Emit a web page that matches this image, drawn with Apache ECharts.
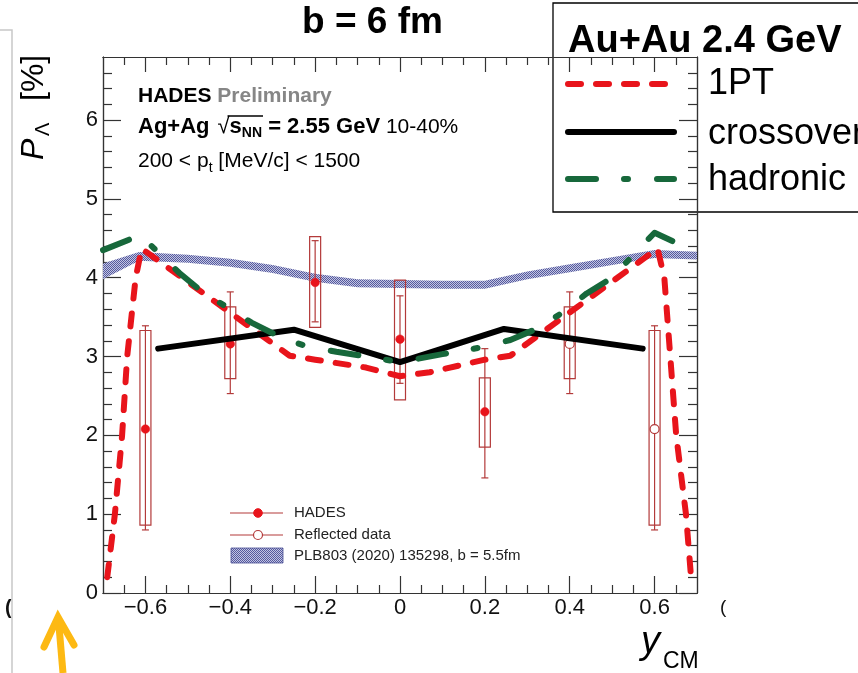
<!DOCTYPE html>
<html><head><meta charset="utf-8">
<script src="https://cdn.jsdelivr.net/npm/echarts@6/dist/echarts.min.js"></script>
<style>html,body{margin:0;padding:0;background:#fff}#c{width:858px;height:673px}</style>
</head><body><div id="c"></div>
<script>
const FONT = '"Liberation Sans", Arial, Helvetica, sans-serif';

// ---- axis ticks ----
const xTickValues = [-0.6, -0.4, -0.2, 0, 0.2, 0.4, 0.6];
const xTickLabels = ['\u22120.6', '\u22120.4', '\u22120.2', '0', '0.2', '0.4', '0.6'];
const xMinorValues = [-0.65, -0.55, -0.5, -0.45, -0.35, -0.3, -0.25, -0.15, -0.1, -0.05, 0.05, 0.1, 0.15, 0.25, 0.3, 0.35, 0.45, 0.5, 0.55, 0.65];
const yTickValues = [0, 1, 2, 3, 4, 5, 6];
const yTickLabels = ['0', '1', '2', '3', '4', '5', '6'];
const yMinorValues = [0.2, 0.4, 0.6, 0.8, 1.2, 1.4, 1.6, 1.8, 2.2, 2.4, 2.6, 2.8, 3.2, 3.4, 3.6, 3.8, 4.2, 4.4, 4.6, 4.8, 5.2, 5.4, 5.6, 5.8, 6.2, 6.4, 6.6];

// ---- PLB803 (2020) band ----
const band_x  = [-0.7, -0.615, -0.5, -0.4, -0.3, -0.2, -0.1, 0, 0.1, 0.2, 0.3, 0.4, 0.5, 0.6, 0.7];
const band_lo = [3.98, 4.215, 4.19, 4.14, 4.06, 3.95, 3.88, 3.87, 3.86, 3.86, 3.98, 4.07, 4.16, 4.25, 4.23];
const band_hi = [4.18, 4.325, 4.29, 4.24, 4.16, 4.05, 3.98, 3.97, 3.96, 3.96, 4.08, 4.17, 4.26, 4.35, 4.33];

// ---- model curves ----
const pt1_x = [-0.69, -0.672, -0.655, -0.643, -0.623, -0.609, -0.26, -0.2, -0.08, 0, 0.07, 0.2, 0.26, 0.607, 0.623, 0.637, 0.651, 0.674, 0.686];
const pt1_y = [0.2, 1.0, 2.0, 3.0, 4.0, 4.37, 3.01, 2.96, 2.86, 2.75, 2.80, 2.96, 3.01, 4.37, 4.0, 3.0, 2.0, 1.0, 0.2];
const cross_x = [-0.57, -0.25, 0, 0.245, 0.572];
const cross_y = [3.10, 3.34, 2.93, 3.35, 3.10];
const had_x = [-0.7, -0.612, -0.52, -0.466, -0.4, -0.35, -0.28, -0.22, -0.15, -0.08, 0, 0.1, 0.196, 0.26, 0.33, 0.386, 0.44, 0.5, 0.55, 0.6, 0.7];
const had_y = [4.35, 4.54, 4.06, 3.82, 3.60, 3.43, 3.24, 3.13, 3.06, 3.00, 2.93, 3.03, 3.12, 3.21, 3.37, 3.57, 3.80, 4.00, 4.29, 4.57, 4.32];

// ---- HADES data ----
const hades_x = [-0.6, -0.4, -0.2, 0, 0.2];
const hades_y = [2.08, 3.16, 3.94, 3.22, 2.30];
const hades_statLo = [0.80, 2.53, 3.44, 2.66, 1.46];
const hades_statHi = [3.39, 3.82, 4.47, 3.77, 3.10];
const hades_sysLo = [0.86, 2.72, 3.37, 2.45, 1.85];
const hades_sysHi = [3.33, 3.63, 4.52, 3.97, 2.73];
// ---- reflected data ----
const refl_x = [0.4, 0.6];
const refl_y = [3.16, 2.08];
const refl_statLo = [2.53, 0.80];
const refl_statHi = [3.82, 3.39];
const refl_sysLo = [2.72, 0.86];
const refl_sysHi = [3.63, 3.33];

// ---- styles ----
const RED = '#e8141b', ERR = '#b33a3a', GREEN = '#17683b', AXIS = '#333';

const pat = document.createElement('canvas');
pat.width = 4; pat.height = 4;
(function () {
  const c = pat.getContext('2d');
  c.fillStyle = '#c3c5e2'; c.fillRect(0, 0, 4, 4);
  c.fillStyle = '#555a9e';
  for (let i = 0; i < 4; i++) for (let j = 0; j < 4; j++) if ((i + j) % 2 === 0) c.fillRect(i, j, 1, 1);
})();
const PATTERN = { image: pat, repeat: 'repeat' };

const mctx = document.createElement('canvas').getContext('2d');
function fontStr(size, weight, style) { return (style || 'normal') + ' ' + (weight || 'normal') + ' ' + size + 'px ' + FONT; }
function tw(t, f) { mctx.font = f; return mctx.measureText(t).width; }
function seq(x, y, parts) {
  let cx = x; const out = [];
  parts.forEach(p => {
    const f = fontStr(p.size, p.weight, p.style);
    cx += p.dx || 0;
    out.push({ type: 'text', x: cx, y: y + (p.dy || 0), z: 5,
      style: { text: p.t, font: f, fill: p.color || '#000', textAlign: 'left', textVerticalAlign: 'middle' } });
    p._x = cx;
    cx += tw(p.t, f);
    p._x2 = cx;
  });
  return out;
}

function pairs(xs, ys) { return xs.map((x, i) => [x, ys[i]]); }
function rows(xs, ys, sl, sh, yl, yh, filled) { return xs.map((x, i) => [x, ys[i], sl[i], sh[i], yl[i], yh[i], filled]); }

function renderBand(params, api) {
  if (params.dataIndex !== 0) return null;
  const up = band_x.map((x, i) => api.coord([x, band_hi[i]]));
  const dn = band_x.map((x, i) => api.coord([x, band_lo[i]])).reverse();
  return { type: 'polygon', shape: { points: up.concat(dn) }, style: { fill: PATTERN, stroke: null } };
}

function renderPoint(params, api) {
  const x = api.value(0), y = api.value(1);
  const c = api.coord([x, y]);
  const pSl = api.coord([x, api.value(2)]), pSh = api.coord([x, api.value(3)]);
  const pYl = api.coord([x, api.value(4)]), pYh = api.coord([x, api.value(5)]);
  const filled = api.value(6) === 1;
  const bw = 5.5, cw = 3.5;
  const ls = { stroke: ERR, lineWidth: 1.2, fill: null };
  return { type: 'group', children: [
    { type: 'rect', shape: { x: c[0] - bw, y: pYh[1], width: 2 * bw, height: pYl[1] - pYh[1] }, style: { fill: 'none', stroke: ERR, lineWidth: 1.2 } },
    { type: 'line', shape: { x1: c[0], y1: pSl[1], x2: c[0], y2: pSh[1] }, style: ls },
    { type: 'line', shape: { x1: c[0] - cw, y1: pSl[1], x2: c[0] + cw, y2: pSl[1] }, style: ls },
    { type: 'line', shape: { x1: c[0] - cw, y1: pSh[1], x2: c[0] + cw, y2: pSh[1] }, style: ls },
    { type: 'circle', shape: { cx: c[0], cy: c[1], r: filled ? 4.3 : 4.5 },
      style: filled ? { fill: RED, stroke: RED, lineWidth: 0.5 } : { fill: '#fff', stroke: ERR, lineWidth: 1.2 } }
  ] };
}

function xAxisDef(pos, values, len, labels) {
  return { type: 'value', min: -0.7, max: 0.7, position: pos,
    axisLine: { show: true, onZero: false, lineStyle: { color: AXIS, width: 1.2 } },
    axisTick: { show: true, inside: true, length: len, customValues: values, lineStyle: { color: AXIS, width: 1.2 } },
    axisLabel: labels ? { show: true, customValues: xTickValues, margin: 4, fontSize: 22, fontFamily: FONT, color: '#111',
      formatter: v => { const i = xTickValues.findIndex(t => Math.abs(t - v) < 1e-6); return i >= 0 ? xTickLabels[i] : ''; } } : { show: false },
    splitLine: { show: false } };
}
function yAxisDef(pos, values, len, labels) {
  return { type: 'value', min: 0, max: 6.8, position: pos,
    axisLine: { show: true, onZero: false, lineStyle: { color: AXIS, width: 1.2 } },
    axisTick: { show: true, inside: true, length: len, customValues: values, lineStyle: { color: AXIS, width: 1.2 } },
    axisLabel: labels ? { show: true, customValues: yTickValues, margin: 5, fontSize: 22, fontFamily: FONT, color: '#111',
      formatter: v => { const i = yTickValues.findIndex(t => Math.abs(t - v) < 1e-6); return i >= 0 ? yTickLabels[i] : ''; } } : { show: false },
    splitLine: { show: false } };
}

// ---- annotation texts ----
const g = [];
g.push({ type: 'polyline', z: 1, shape: { points: [[0, 30], [12, 30], [12, 673]] }, style: { stroke: '#c8c8c8', lineWidth: 1.5, fill: null } });
g.push({ type: 'text', x: 5, y: 608, style: { text: '(', font: fontStr(20, 'bold'), fill: '#111', textVerticalAlign: 'middle' } });
g.push({ type: 'text', x: 720, y: 608, style: { text: '(', font: fontStr(19), fill: '#111', textVerticalAlign: 'middle' } });
g.push({ type: 'text', x: 372.5, y: 23, style: { text: 'b = 6 fm', font: fontStr(37, 'bold'), fill: '#000', textAlign: 'center', textVerticalAlign: 'middle' } });
g.push({ type: 'rect', z: -1, shape: { x: 553, y: 3, width: 330, height: 209 }, style: { fill: '#fff', stroke: '#000', lineWidth: 1.3 } });
g.push({ type: 'text', z: -1, x: 568, y: 42, style: { text: 'Au+Au 2.4 GeV', font: fontStr(38, 'bold'), fill: '#000', textVerticalAlign: 'middle' } });
g.push({ type: 'line', z: -1, shape: { x1: 568, y1: 84, x2: 666, y2: 84 }, style: { stroke: RED, lineWidth: 6, lineDash: [13, 15], lineCap: 'round' } });
g.push({ type: 'line', z: -1, shape: { x1: 568, y1: 132, x2: 674, y2: 132 }, style: { stroke: '#000', lineWidth: 6, lineCap: 'round' } });
g.push({ type: 'line', z: -1, shape: { x1: 568, y1: 179, x2: 674, y2: 179 }, style: { stroke: GREEN, lineWidth: 6, lineDash: [28, 28, 4, 29], lineCap: 'round' } });
g.push({ type: 'text', z: -1, x: 708, y: 84, style: { text: '1PT', font: fontStr(36), fill: '#000', textVerticalAlign: 'middle' } });
g.push({ type: 'text', z: -1, x: 708, y: 134, style: { text: 'crossover', font: fontStr(36), fill: '#000', textVerticalAlign: 'middle' } });
g.push({ type: 'text', z: -1, x: 708, y: 180, style: { text: 'hadronic', font: fontStr(36), fill: '#000', textVerticalAlign: 'middle' } });
g.push(...seq(138, 96, [{ t: 'HADES', size: 21, weight: 'bold' }, { t: ' Preliminary', size: 21, weight: 'bold', color: '#868686' }]));
const l2 = [
  { t: 'Ag+Ag', size: 22, weight: 'bold' },
  { t: '\u221A', size: 22, dx: 8 },
  { t: 's', size: 22, weight: 'bold' },
  { t: 'NN', size: 14, weight: 'bold', dy: 6 },
  { t: ' = 2.55 GeV', size: 22, weight: 'bold' },
  { t: ' 10-40%', size: 21 }
];
g.push(...seq(138, 127, l2));
g.push({ type: 'line', z: 5, shape: { x1: l2[1]._x + 10, y1: 116, x2: l2[3]._x2 + 1, y2: 116 }, style: { stroke: '#000', lineWidth: 1.3 } });
g.push(...seq(138, 161, [
  { t: '200 < p', size: 21 },
  { t: 't', size: 14, dy: 7 },
  { t: ' [MeV/c] < 1500', size: 21 }
]));
g.push({ type: 'line', z: 5, shape: { x1: 230, y1: 513, x2: 283, y2: 513 }, style: { stroke: ERR, lineWidth: 1.2 } });
g.push({ type: 'circle', z: 5, shape: { cx: 258, cy: 513, r: 4.3 }, style: { fill: RED, stroke: RED } });
g.push({ type: 'line', z: 5, shape: { x1: 230, y1: 535, x2: 283, y2: 535 }, style: { stroke: ERR, lineWidth: 1.2 } });
g.push({ type: 'circle', z: 5, shape: { cx: 258, cy: 535, r: 4.5 }, style: { fill: '#fff', stroke: ERR, lineWidth: 1.2 } });
g.push({ type: 'rect', z: 5, shape: { x: 231, y: 548, width: 52, height: 15 }, style: { fill: PATTERN, stroke: '#4a4e96', lineWidth: 0.8 } });
g.push({ type: 'text', z: 5, x: 294, y: 513, style: { text: 'HADES', font: fontStr(15), fill: '#222', textVerticalAlign: 'middle' } });
g.push({ type: 'text', z: 5, x: 294, y: 535, style: { text: 'Reflected data', font: fontStr(15), fill: '#222', textVerticalAlign: 'middle' } });
g.push({ type: 'text', z: 5, x: 294, y: 556, style: { text: 'PLB803 (2020) 135298, b = 5.5fm', font: fontStr(15), fill: '#222', textVerticalAlign: 'middle' } });
g.push({ type: 'group', x: 34, y: 160, rotation: Math.PI / 2, children: [
  { type: 'text', x: 0, y: 0, style: { text: 'P', font: fontStr(32, 'normal', 'italic'), fill: '#000', textVerticalAlign: 'middle' } },
  { type: 'text', x: 24, y: 9, style: { text: '\u039B', font: fontStr(20), fill: '#000', textVerticalAlign: 'middle' } },
  { type: 'text', x: 59, y: 0, style: { text: '[%]', font: fontStr(32), fill: '#000', textVerticalAlign: 'middle' } }
] });
g.push({ type: 'text', x: 641, y: 642, style: { text: 'y', font: fontStr(38, 'normal', 'italic'), fill: '#000', textVerticalAlign: 'middle' } });
g.push({ type: 'text', x: 663, y: 662, style: { text: 'CM', font: fontStr(23), fill: '#000', textVerticalAlign: 'middle' } });
g.push({ type: 'polyline', z: 6, shape: { points: [[63, 673], [58.5, 620]] }, style: { stroke: '#FDB913', lineWidth: 7, lineCap: 'butt', fill: null } });
g.push({ type: 'polyline', z: 6, shape: { points: [[44, 647], [58, 617], [74, 645]] }, style: { stroke: '#FDB913', lineWidth: 7, lineCap: 'round', lineJoin: 'miter', fill: null } });

const option = {
  animation: false,
  backgroundColor: '#fff',
  grid: { left: 103, right: 161, top: 57, bottom: 80, containLabel: false, outerBoundsMode: 'none' },
  xAxis: [
    xAxisDef('bottom', xTickValues, 17, true),
    xAxisDef('bottom', xMinorValues, 8, false),
    xAxisDef('top', xTickValues, 15, false),
    xAxisDef('top', xMinorValues, 8, false)
  ],
  yAxis: [
    yAxisDef('left', yTickValues, 18, true),
    yAxisDef('left', yMinorValues, 9, false),
    yAxisDef('right', yTickValues, 18, false),
    yAxisDef('right', yMinorValues, 9, false)
  ],
  series: [
    { type: 'custom', xAxisIndex: 0, yAxisIndex: 0, renderItem: renderBand, silent: true, clip: true,
      encode: { x: 0, y: 1 }, data: band_x.map((x, i) => [x, band_lo[i], band_hi[i]]) },
    { type: 'custom', xAxisIndex: 0, yAxisIndex: 0, renderItem: renderPoint, encode: { x: 0, y: 1 },
      data: rows(hades_x, hades_y, hades_statLo, hades_statHi, hades_sysLo, hades_sysHi, 1).concat(
            rows(refl_x, refl_y, refl_statLo, refl_statHi, refl_sysLo, refl_sysHi, 0)) },
    { type: 'line', name: '1PT', xAxisIndex: 0, yAxisIndex: 0, symbol: 'none', data: pairs(pt1_x, pt1_y),
      lineStyle: { color: RED, width: 6, type: [13, 15], cap: 'round', join: 'round' } },
    { type: 'line', name: 'crossover', xAxisIndex: 0, yAxisIndex: 0, symbol: 'none', data: pairs(cross_x, cross_y),
      lineStyle: { color: '#000', width: 6, cap: 'round', join: 'round' } },
    { type: 'line', name: 'hadronic', xAxisIndex: 0, yAxisIndex: 0, symbol: 'none', data: pairs(had_x, had_y),
      lineStyle: { color: GREEN, width: 6, type: [28, 28, 4, 29], cap: 'round', join: 'round' } }
  ],
  graphic: { elements: g }
};
const chart = echarts.init(document.getElementById('c'), null, { renderer: 'canvas' });
chart.setOption(option);
</script></body></html>
